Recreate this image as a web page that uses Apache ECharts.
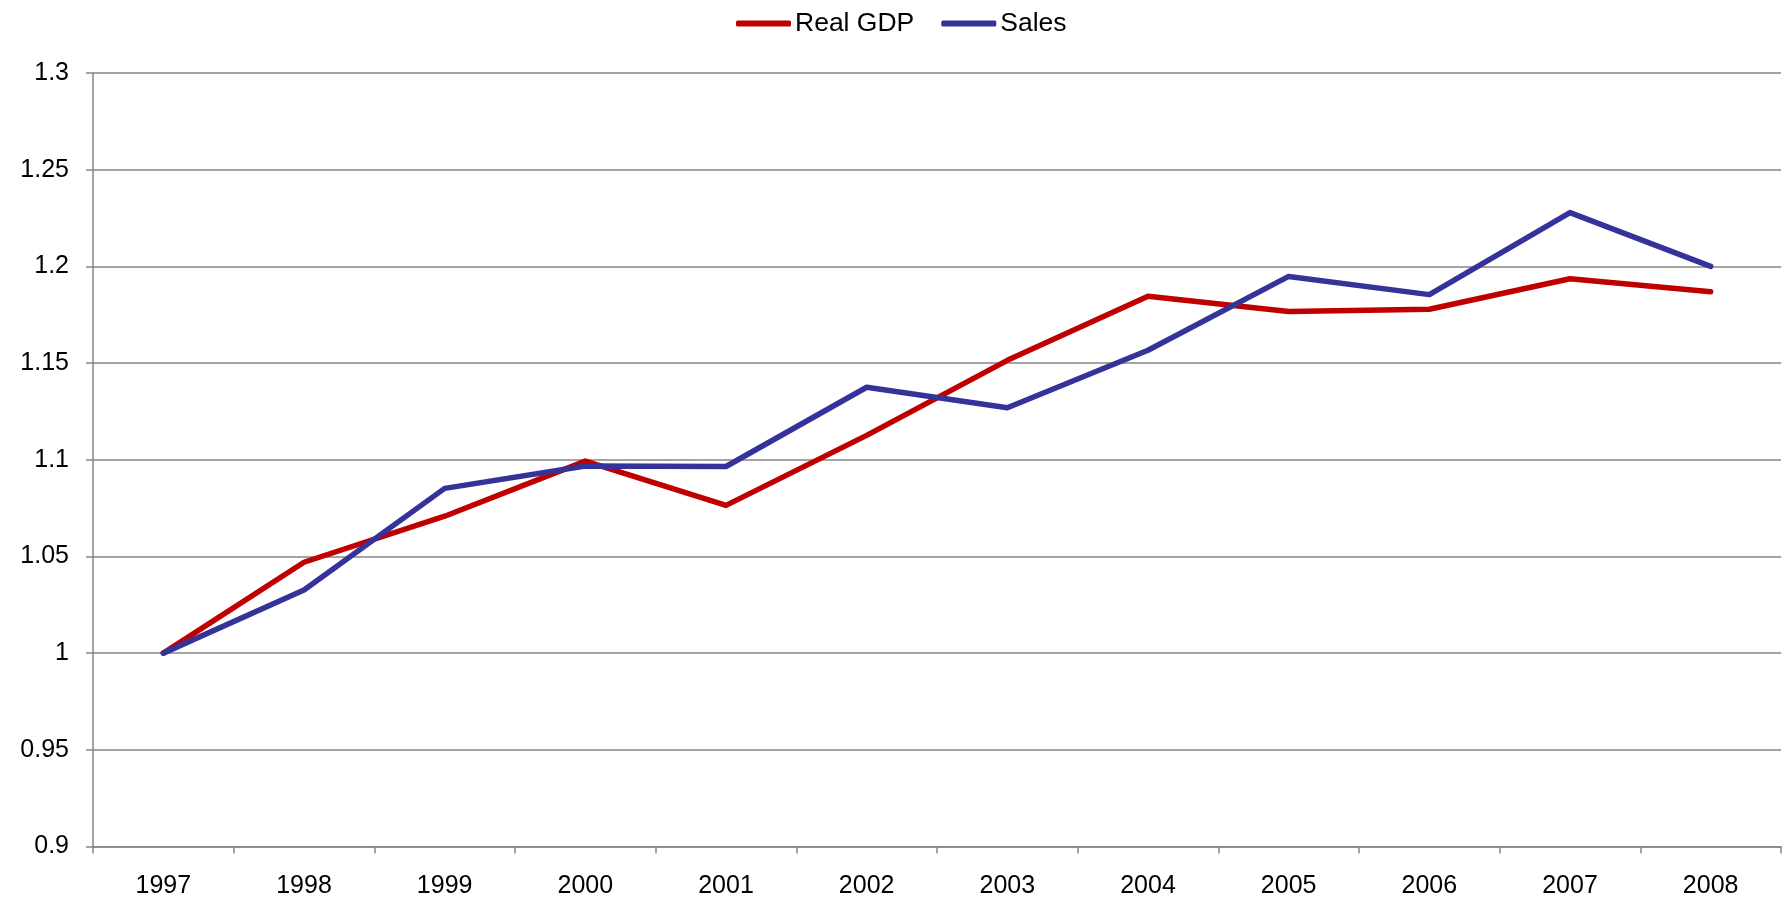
<!DOCTYPE html>
<html>
<head>
<meta charset="utf-8">
<script src="https://cdn.jsdelivr.net/npm/echarts@6/dist/echarts.min.js"></script>
<style>
html,body{margin:0;padding:0;background:#fff;}
#chart{width:1784px;height:900px;}
</style>
</head>
<body>
<div id="chart"></div>
<script>
const years = ['1997','1998','1999','2000','2001','2002','2003','2004','2005','2006','2007','2008'];
const realGDP = [1.0, 1.047, 1.0708, 1.0993, 1.0764, 1.1126, 1.1514, 1.1845, 1.1767, 1.1778, 1.1936, 1.1869];
const sales = [1.0, 1.0326, 1.0852, 1.0968, 1.0965, 1.1375, 1.1269, 1.1566, 1.1948, 1.1854, 1.2278, 1.2];

const FONT = '"Liberation Sans", Arial, sans-serif';
const GRAY = '#868686';
const chart = echarts.init(document.getElementById('chart'), null, {renderer: 'canvas'});
chart.setOption({
  animation: false,
  backgroundColor: '#fff',
  textStyle: {fontFamily: FONT},
  legend: {
    left: 731, top: 5,
    icon: 'roundRect',
    itemWidth: 55, itemHeight: 6, itemGap: 27,
    textStyle: {fontFamily: FONT, fontSize: 26.5, color: '#000', padding: [0, 0, 0, -1]},
    data: ['Real GDP', 'Sales']
  },
  grid: {left: 93, right: 3, top: 73, bottom: 53.5, containLabel: false},
  xAxis: {
    type: 'category',
    data: years,
    boundaryGap: true,
    axisLine: {lineStyle: {color: GRAY, width: 1.5}},
    axisTick: {show: true, inside: false, length: 7, interval: 0, lineStyle: {color: GRAY, width: 1.5}},
    axisLabel: {fontFamily: FONT, fontSize: 25, color: '#000', margin: 27, interval: 0},
    splitLine: {show: false}
  },
  yAxis: {
    type: 'value',
    min: 0.9, max: 1.3, interval: 0.05,
    axisLine: {show: true, lineStyle: {color: GRAY, width: 1.5}},
    axisTick: {show: true, inside: false, length: 7, lineStyle: {color: GRAY, width: 1.5}},
    axisLabel: {fontFamily: FONT, fontSize: 25, color: '#000', margin: 24,
      formatter: v => String(+(+v).toFixed(2))},
    splitLine: {show: true, lineStyle: {color: GRAY, width: 1.5}}
  },
  series: [
    {name: 'Real GDP', type: 'line', data: realGDP, symbol: 'none',
     itemStyle: {color: '#C00000'},
     lineStyle: {color: '#C00000', width: 5.5, cap: 'round', join: 'round'}},
    {name: 'Sales', type: 'line', data: sales, symbol: 'none',
     itemStyle: {color: '#333399'},
     lineStyle: {color: '#333399', width: 5.5, cap: 'round', join: 'round'}}
  ]
});
</script>
</body>
</html>
